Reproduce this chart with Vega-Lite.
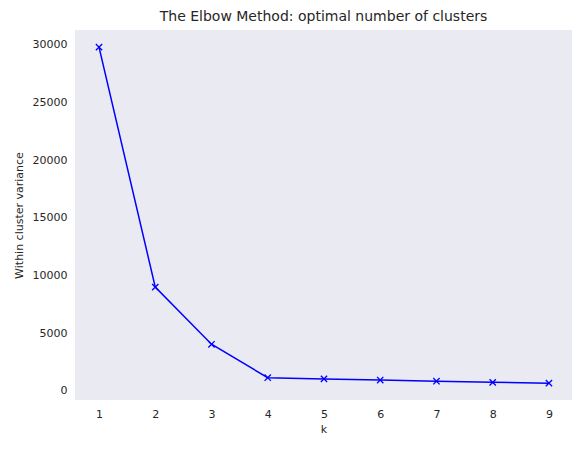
{
  "$schema": "https://vega.github.io/schema/vega-lite/v6.json",
  "width": 497,
  "height": 370,
  "autosize": "none",
  "padding": {"left": 75, "top": 30, "right": 10, "bottom": 49},
  "background": "white",
  "title": {"text": "The Elbow Method: optimal number of clusters", "fontSize": 14, "fontWeight": "normal", "font": "DejaVu Sans", "color": "#262626", "offset": 6},
  "config": {
    "view": {"fill": "#eaeaf2", "stroke": null},
    "axis": {"grid": false, "domain": false, "ticks": false, "labelFont": "DejaVu Sans", "titleFont": "DejaVu Sans", "labelFontSize": 11, "titleFontSize": 11, "titleFontWeight": "normal", "labelColor": "#262626", "titleColor": "#262626", "labelPadding": 8}
  },
  "data": {"values": [
    {"k": 1, "wcv": 29800}, {"k": 2, "wcv": 9000}, {"k": 3, "wcv": 4050},
    {"k": 4, "wcv": 1150}, {"k": 5, "wcv": 1050}, {"k": 6, "wcv": 950},
    {"k": 7, "wcv": 850}, {"k": 8, "wcv": 750}, {"k": 9, "wcv": 680}
  ]},
  "encoding": {
    "x": {"field": "k", "type": "quantitative", "title": "k", "scale": {"domain": [0.573, 9.41], "nice": false, "zero": false}, "axis": {"values": [1,2,3,4,5,6,7,8,9], "titlePadding": 4}},
    "y": {"field": "wcv", "type": "quantitative", "title": "Within cluster variance", "scale": {"domain": [-780, 31280], "nice": false}, "axis": {"values": [0,5000,10000,15000,20000,25000,30000], "format": "d", "titlePadding": 8}}
  },
  "layer": [
    {"mark": {"type": "line", "color": "blue", "strokeWidth": 1.5}},
    {"mark": {"type": "point", "shape": "M-1,-1L1,1M1,-1L-1,1", "color": "blue", "filled": false, "strokeWidth": 1.3, "opacity": 1, "size": 40}}
  ]
}
